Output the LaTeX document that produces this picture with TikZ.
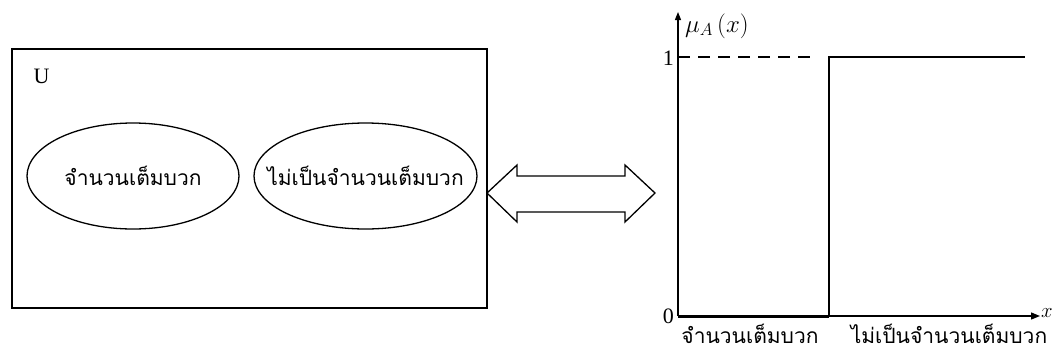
\documentclass[tikz,border=0pt]{standalone}
\usepackage{fontspec}
\setmainfont{Liberation Serif}
\newfontfamily\thaifont[Script=Thai]{Loma}
\usetikzlibrary{shapes.geometric,arrows.meta}

\begin{document}
\begin{tikzpicture}[x=1pt,y=-1pt,
    ens/.style={draw,ellipse,line width=1.3pt,minimum width=212pt,minimum height=106pt,inner sep=0pt},
    lab/.style={font=\fontsize{22}{24}\selectfont},
    thlab/.style={font=\thaifont\fontsize{21}{24}\selectfont,inner sep=0pt}]
    \useasboundingbox (0,0) rectangle (1052,354);

    % Univers
    \node[draw,line width=1.3pt,minimum width=475pt,minimum height=259pt,inner sep=0pt] (U) at (249.5,178.5) {};
    \node[lab,anchor=west] (Ulab) at (30,76) {U};

    % Ensembles
    \node[ens] (pos) at (133,176) {};
    \node[ens,minimum width=223pt] (nonpos) at (365.5,176) {};
    \node[thlab] (tpos) at (pos) {จำนวนเต็มบวก};
    \node[thlab] (tnonpos) at (nonpos) {ไม่เป็นจำนวนเต็มบวก};

    % Fleche double
    \draw[line width=1.3pt] (487,193) -- (517,165) -- (517,176) -- (625,176) -- (625,165)
        -- (655,193) -- (625,222) -- (625,212) -- (517,212) -- (517,222) -- cycle;

    % Axes
    \coordinate (O) at (678,316);
    \coordinate (Y) at (678,12);
    \coordinate (X) at (1040,316);
    \draw[line width=1.3pt,-{Triangle[length=8pt,width=6pt]}] (O) -- (Y);
    \draw[line width=1.3pt,-{Triangle[length=9pt,width=7pt]}] (O) -- (X);

    % Labels
    \node[font=\fontsize{24}{26}\selectfont,anchor=west,inner sep=1pt] (mu) at (684,26) {$\mu_A\,(x)$};
    \node[lab,anchor=east,inner sep=1pt] (one) at (675,58) {1};
    \node[lab,anchor=east,inner sep=1pt] (zero) at (675,316) {0};
    \node[lab,anchor=west,inner sep=1pt] (xlab) at (1040,313) {$x$};
    \node[thlab] (lpos) at (750,334) {จำนวนเต็มบวก};
    \node[thlab] (lnonpos) at (949,334) {ไม่เป็นจำนวนเต็มบวก};

    % Fonction
    \draw[line width=1.3pt,dash pattern=on 12pt off 8pt] (678,57) -- (814,57);
    \draw[line width=3pt] (O) -- (829,316);
    \draw[line width=1.3pt] (829,316) -- (829,57) -- (1025,57);
\end{tikzpicture}
\end{document}
